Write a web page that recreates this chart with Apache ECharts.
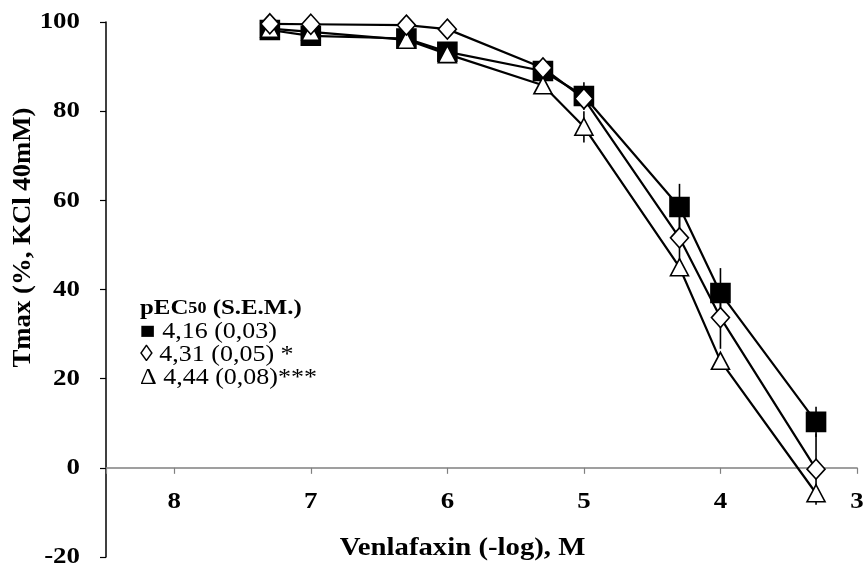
<!DOCTYPE html>
<html>
<head>
<meta charset="utf-8">
<script src="https://cdn.jsdelivr.net/npm/echarts@6/dist/echarts.min.js"></script>
<style>
  html, body { margin: 0; padding: 0; background: #fff; }
  #chart { width: 865px; height: 569px; }
</style>
</head>
<body>
<div id="chart"></div>
<script>
// Venlafaxin concentration (-log M)
const concentrations = [7.3, 7, 6.3, 6, 5.3, 5, 4.3, 4, 3.3];

// Tmax (% of KCl 40 mM response), means and S.E.M.
const controlMean   = [98.2, 96.9, 96.3, 93.3, 89.0, 83.4, 58.5, 39.2, 10.3];
const controlSem    = [1.0, 1.0, 1.0, 1.0, 1.0, 3.1, 5.2, 5.6, 3.4];
const diamondMean   = [99.6, 99.5, 99.3, 98.4, 89.7, 82.8, 51.6, 33.7, -0.3];
const diamondSem    = [1.0, 1.0, 1.0, 1.0, 1.0, 2.0, 5.0, 7.0, 8.0];
const triangleMean  = [98.5, 97.8, 96.0, 92.8, 85.8, 76.5, 45.0, 24.0, -5.7];
const triangleSem   = [1.0, 1.0, 1.0, 1.0, 1.5, 3.5, 1.5, 1.5, 2.0];

// Axis tick labels and titles
const xTickLabels = [8, 7, 6, 5, 4, 3];
const yTickLabels = [100, 80, 60, 40, 20, 0, -20];
const xTitle = 'Venlafaxin (-log), M';
const yTitle = 'Tmax (%, KCl 40mM)';

// pEC50 annotation
const legendTitle = 'pEC';
const legendSub = '50';
const legendTitleTail = ' (S.E.M.)';
const legendLines = ['\u25A0 4,16 (0,03)', '\u25CA 4,31 (0,05) *', '\u0394 4,44 (0,08)***'];

const FONT = '"Liberation Serif", "Times New Roman", serif';
const WIDE = 1.12; // the serif face is set a little wider than stock Times

function pairs(xs, ys) { return xs.map((x, i) => [x, ys[i]]); }
function errRows(xs, ys, es) { return xs.map((x, i) => [x, ys[i] - es[i], ys[i] + es[i]]); }

function errorSeries(rows, z) {
  return {
    type: 'custom',
    z: z,
    silent: true,
    data: rows,
    renderItem: function (params, api) {
      const lo = api.coord([api.value(0), api.value(1)]);
      const hi = api.coord([api.value(0), api.value(2)]);
      return {
        type: 'line',
        shape: { x1: lo[0], y1: lo[1], x2: hi[0], y2: hi[1] },
        style: { stroke: '#000', lineWidth: 1.6 }
      };
    }
  };
}

function lineSeries(name, data, symbol, size, fill, z) {
  return {
    name: name,
    type: 'line',
    z: z,
    data: data,
    symbol: symbol,
    symbolSize: size,
    showAllSymbol: true,
    lineStyle: { color: '#000', width: 2.2 },
    itemStyle: { color: fill, borderColor: '#000', borderWidth: 1.6 },
    emphasis: { disabled: true },
    animation: false
  };
}

const chart = echarts.init(document.getElementById('chart'), null, { renderer: 'canvas' });

chart.setOption({
  animation: false,
  backgroundColor: '#fff',
  grid: { left: 106, right: 8, top: 22, bottom: 12, containLabel: false, outerBoundsMode: 'none' },
  xAxis: {
    type: 'value',
    min: 3,
    max: 8.5,
    interval: 1,
    inverse: true,
    axisLine: { onZero: true, lineStyle: { color: '#808080', width: 1.5 } },
    axisTick: { show: true, length: 6, lineStyle: { color: '#808080', width: 1.2 } },
    axisLabel: { show: false },
    splitLine: { show: false }
  },
  yAxis: {
    type: 'value',
    min: -20,
    max: 100,
    interval: 20,
    axisLine: { show: true, onZero: false, lineStyle: { color: '#000', width: 1.5 } },
    axisTick: { show: true, length: 6, lineStyle: { color: '#000', width: 1.2 } },
    axisLabel: { show: false },
    splitLine: { show: false }
  },
  series: [
    errorSeries(errRows(concentrations, controlMean, controlSem), 1),
    errorSeries(errRows(concentrations, diamondMean, diamondSem), 1),
    errorSeries(errRows(concentrations, triangleMean, triangleSem), 1),
    lineSeries('control', pairs(concentrations, controlMean), 'rect', 19, '#000', 2),
    lineSeries('triangle', pairs(concentrations, triangleMean), 'triangle', [18, 17], '#fff', 3),
    lineSeries('diamond', pairs(concentrations, diamondMean), 'diamond', [18, 20], '#fff', 4)
  ]
});

// Tick labels and titles, placed through the axes' own scales
const toPx = (x, y) => chart.convertToPixel({ gridIndex: 0 }, [x, y]);
const zeroY = toPx(8.5, 0)[1];
const axisX = toPx(8.5, 0)[0];
const bold = size => ({ fontFamily: FONT, fontWeight: 'bold', fontSize: size, fill: '#000' });

const texts = [];
xTickLabels.forEach(v => {
  const p = toPx(v, 0);
  texts.push({
    type: 'text', x: p[0], y: zeroY + 34, scaleX: WIDE, silent: true,
    style: Object.assign({ text: String(v), align: 'center', verticalAlign: 'middle' }, bold(24))
  });
});
yTickLabels.forEach(v => {
  const p = toPx(8.5, v);
  texts.push({
    type: 'text', x: axisX - 26, y: p[1], scaleX: WIDE, silent: true,
    style: Object.assign({ text: String(v), align: 'right', verticalAlign: 'middle' }, bold(24))
  });
});
const midX = (toPx(8.5, 0)[0] + toPx(3, 0)[0]) / 2;
texts.push({
  type: 'text', x: midX - 19, y: zeroY + 81, scaleX: 1.15, silent: true,
  style: Object.assign({ text: xTitle, align: 'center', verticalAlign: 'middle' }, bold(25))
});
texts.push({
  type: 'text', x: 24, y: (toPx(8.5, 100)[1] + toPx(8.5, -20)[1]) / 2 - 52,
  rotation: Math.PI / 2, scaleX: 1.07, silent: true,
  style: Object.assign({ text: yTitle, align: 'center', verticalAlign: 'middle' }, bold(25))
});
texts.push({
  type: 'text', x: 140, y: 297, scaleX: 1.13, silent: true,
  style: {
    text: '{b|' + legendTitle + '}{s|' + legendSub + '}{b|' + legendTitleTail + '}\n' + legendLines.join('\n'),
    rich: {
      b: { fontFamily: FONT, fontWeight: 'bold', fontSize: 22, fill: '#000', lineHeight: 23 },
      s: { fontFamily: FONT, fontWeight: 'bold', fontSize: 16, fill: '#000', lineHeight: 23 }
    },
    fontFamily: FONT,
    fontSize: 23,
    fill: '#000',
    lineHeight: 23,
    align: 'left',
    verticalAlign: 'top'
  }
});

chart.setOption({ graphic: texts });
</script>
</body>
</html>
